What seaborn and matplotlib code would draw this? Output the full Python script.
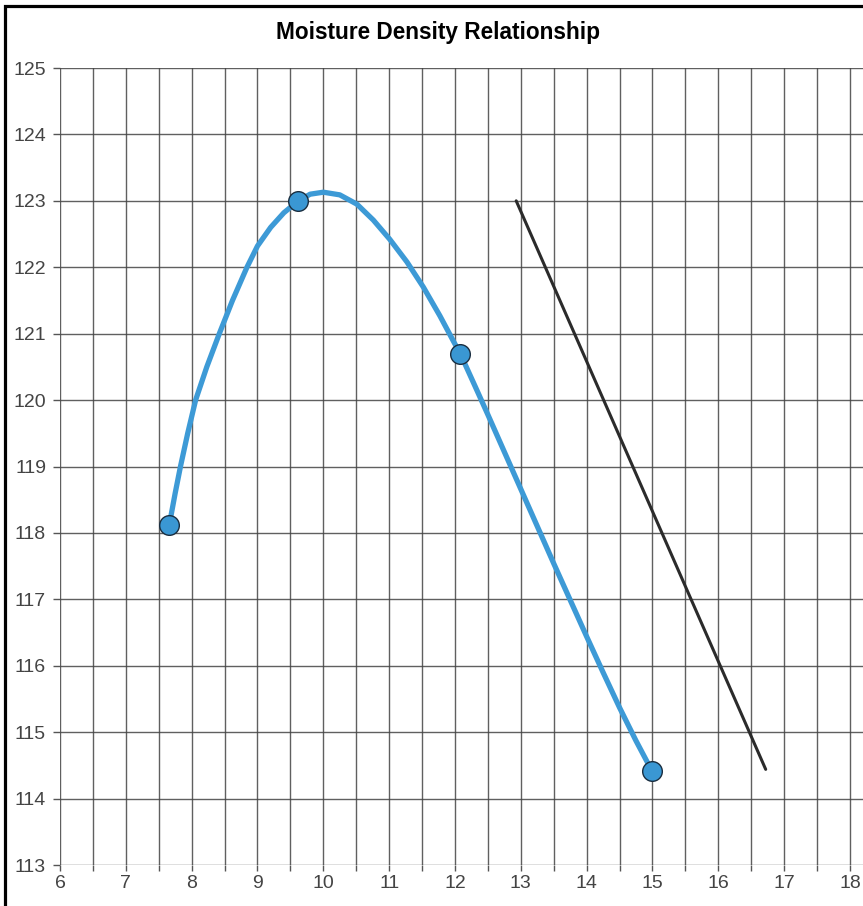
import matplotlib
matplotlib.use("Agg")
import matplotlib.pyplot as plt
import matplotlib.patches as mpatches
from matplotlib.ticker import MultipleLocator
import pandas as pd
import seaborn as sns

# ── data ──────────────────────────────────────────────────────────────────────

# measured moisture / dry density points
moisture = [7.66, 9.62, 12.08, 14.99]
density = [118.12, 123.0, 120.70, 114.42]

# smooth fitted curve traced through the points
curve_x = [7.66, 7.75, 7.83, 7.94, 8.06, 8.23, 8.42, 8.62, 8.84, 9.00,
           9.20, 9.40, 9.62, 9.80, 10.00, 10.25, 10.51, 10.76, 11.01,
           11.27, 11.52, 11.77, 11.98, 12.08, 12.30, 12.50, 12.75, 13.00,
           13.25, 13.50, 13.75, 14.00, 14.25, 14.50, 14.75, 14.99]
curve_y = [118.12, 118.60, 119.00, 119.50, 120.00, 120.50, 121.00, 121.50,
           122.00, 122.32, 122.60, 122.82, 123.00, 123.10, 123.13, 123.09,
           122.95, 122.71, 122.42, 122.08, 121.70, 121.27, 120.88, 120.70,
           120.22, 119.78, 119.22, 118.66, 118.10, 117.54, 116.99, 116.44,
           115.90, 115.37, 114.87, 114.42]

# zero air voids line
zav_x = [12.93, 16.72]
zav_y = [123.0, 114.44]

x_ticks = list(range(6, 19))
y_ticks = list(range(113, 126))

# ── style ─────────────────────────────────────────────────────────────────────

sns.set_style("white")
plt.rcParams["font.family"] = ["Liberation Sans", "DejaVu Sans"]

W, H = 863, 906
fig = plt.figure(figsize=(W / 100, H / 100), dpi=100)

px_per_x = 65.83
left_px, right_px = 60, 60 + 12.3 * px_per_x
top_px, bottom_px = 68, 865
ax = fig.add_axes([left_px / W, (H - bottom_px) / H,
                   (right_px - left_px) / W, (bottom_px - top_px) / H])

curve = pd.DataFrame({"x": curve_x, "y": curve_y})
pts = pd.DataFrame({"x": moisture, "y": density})
zav = pd.DataFrame({"x": zav_x, "y": zav_y})

sns.lineplot(data=zav, x="x", y="y", ax=ax, color="#2b2b2b", linewidth=2.2,
             sort=False, zorder=3)
sns.lineplot(data=curve, x="x", y="y", ax=ax, color="#3d9ad6", linewidth=3.8,
             sort=False, zorder=4, solid_joinstyle="round",
             solid_capstyle="round")
sns.scatterplot(data=pts, x="x", y="y", ax=ax, color="#3a97d3", s=200,
                edgecolor="#1a2e40", linewidth=1.0, zorder=5)

ax.set_xlim(6, 18.3)
ax.set_ylim(113, 125)
ax.xaxis.set_major_locator(MultipleLocator(1))
ax.xaxis.set_minor_locator(MultipleLocator(0.5))
ax.yaxis.set_major_locator(MultipleLocator(1))
ax.set_xticks(x_ticks)
ax.set_yticks(y_ticks)
ax.set_xlabel("")
ax.set_ylabel("")

ax.grid(which="both", axis="x", color="#444444", linewidth=1.0, alpha=0.85)
ax.grid(which="major", axis="y", color="#444444", linewidth=1.0, alpha=0.85)
ax.set_axisbelow(True)
for s in ax.spines.values():
    s.set_visible(False)

ax.tick_params(axis="x", which="both", direction="out", length=4.5, width=1.0,
               color="#555555", bottom=True, labelsize=14,
               labelcolor="#444444", pad=3)
ax.tick_params(axis="y", which="major", direction="out", length=5, width=1.0,
               color="#555555", left=True, labelsize=14,
               labelcolor="#444444", pad=5)

fig.text(438 / W, 1 - 33 / H, "Moisture Density Relationship",
         ha="center", va="center", fontsize=16.3, fontweight="bold",
         color="black")

# outer frame of the chart (cropped on the right and bottom)
frame = mpatches.Rectangle((5 / W, -0.05), 1.1, 1 - 6 / H + 0.05,
                           transform=fig.transFigure, fill=False,
                           edgecolor="black", linewidth=2.3)
fig.patches.append(frame)

fig.savefig("out.png", dpi=100)
